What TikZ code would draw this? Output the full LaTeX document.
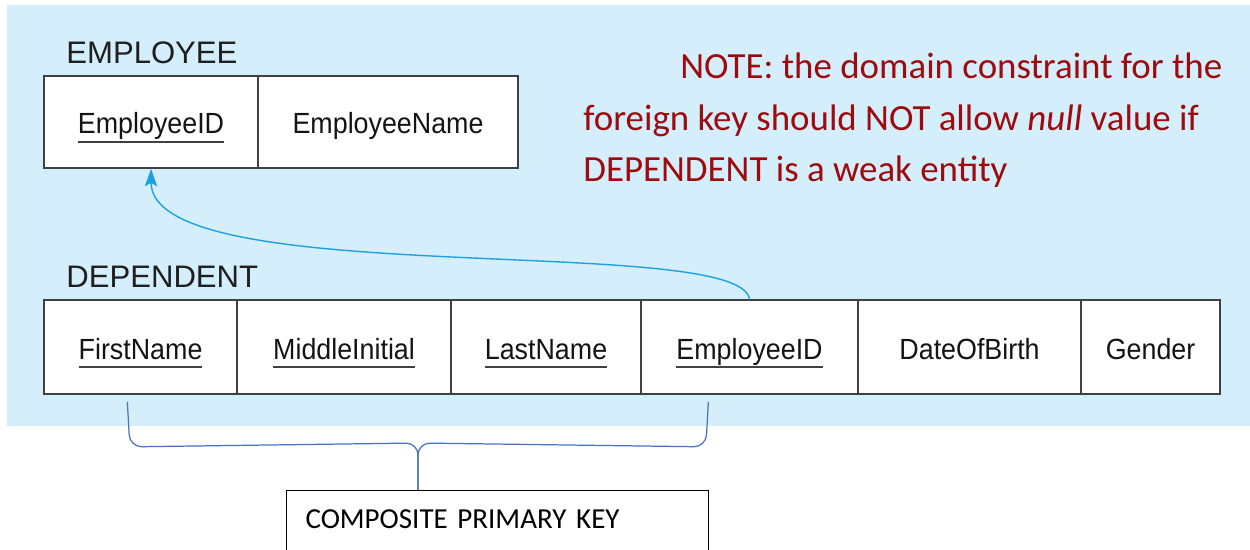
\documentclass[tikz,border=0pt]{standalone}
\usepackage{fontspec}
\newfontfamily\cellfont[FakeStretch=0.92]{Liberation Sans}
\newfontfamily\headfont{Liberation Sans}
\newfontfamily\notefont{Carlito}
\definecolor{fondo}{RGB}{212, 238, 251}
\definecolor{rojo}{RGB}{158, 11, 15}
\definecolor{celeste}{RGB}{28, 162, 226}
\definecolor{llave}{RGB}{68, 114, 196}
\definecolor{borde}{RGB}{64, 64, 64}
\usetikzlibrary{arrows.meta}
\usetikzlibrary{matrix, positioning}
\usetikzlibrary{calc}

\newsavebox{\attrbox}
\newcommand{\keyattr}[1]{\sbox{\attrbox}{#1}\rlap{\color{borde}\rule[-5pt]{\wd\attrbox}{1.1pt}}\usebox{\attrbox}}

\tikzset{
    cell/.style={draw=borde, line width=0.8pt, fill=white, anchor=center, inner sep=0pt,
        font=\cellfont\fontsize{16.6}{20}\selectfont, text=black!92, text height=16pt, text depth=2.4pt},
    tname/.style={font=\headfont\fontsize{17.7}{21}\selectfont, text=black!88, inner sep=0pt},
    note/.style={font=\notefont\fontsize{21}{29.5}\selectfont, text=rojo, align=left, inner sep=0pt},
    fkarrow/.style={celeste, line width=0.8pt, -{Stealth[length=10pt, width=7pt, inset=2pt]}},
    brace/.style={llave, line width=0.7pt, rounded corners=0.24cm},
    keybox/.style={draw, line width=0.6pt, inner xsep=0.38cm, inner ysep=9.5pt, text width=7.68cm, align=left,
        text height=12pt, text depth=10pt, font=\notefont\fontsize{16.5}{20}\selectfont}
}

\begin{document}
\begin{tikzpicture}
    \useasboundingbox (0,0) rectangle (25,11);
    \fill[fondo] (0.14,2.48) rectangle (25,10.9);

    % Employee table
    \matrix[matrix of nodes, nodes={cell, minimum height=1.84cm}, column sep=-0.8pt, inner sep=0pt, anchor=north west] (emp) at (0.86,9.5) {
        |[minimum width=4.28cm]| \keyattr{EmployeeID} & |[minimum width=5.2cm]| EmployeeName \\
    };
    \node[tname, anchor=base west] (empname) at ($(emp.north west)+(0.46,0.22)$) {EMPLOYEE};

    % Dependent table
    \matrix[matrix of nodes, nodes={cell, minimum height=1.88cm}, column sep=-0.8pt, inner sep=0pt,
        below=2.6cm of emp.south west, anchor=north west] (dep) {
        |[minimum width=3.86cm]| \keyattr{FirstName} &
        |[minimum width=4.28cm]| \keyattr{MiddleInitial} &
        |[minimum width=3.8cm]| \keyattr{LastName} &
        |[minimum width=4.34cm]| \keyattr{EmployeeID} &
        |[minimum width=4.46cm]| DateOfBirth &
        |[minimum width=2.78cm]| Gender \\
    };
    \node[tname, anchor=base west] (depname) at ($(dep.north west)+(0.46,0.24)$) {DEPENDENT};

    % Note
    \node[note, anchor=base west] (note) at (11.66,7.36) {\hspace*{1.94cm}NOTE: the domain constraint for the\\
        foreign key should NOT allow \textit{null} value if\\
        DEPENDENT is a weak entity};

    % Foreign key arrow
    \draw[fkarrow] (dep-1-4.north) .. controls +(-0.16,1.34) and +(0,-2.46) .. (emp-1-1.south);

    % Composite key brace
    \node[keybox, anchor=north west] (key) at (5.72,1.2) {COMPOSITE PRIMARY KEY};
    \coordinate (bl) at ($(dep-1-1.south west)+(1.68,-0.14)$);
    \coordinate (br) at ($(dep-1-4.south west)+(1.36,-0.14)$);
    \coordinate (tip) at ($(key.north west)+(2.64,0)$);
    \draw[brace] (bl) -- ($(bl)+(0.05,-0.9)$) -- ($(tip)+(0,0.94)$) -- (tip);
    \draw[brace] (br) -- ($(br)+(-0.05,-0.9)$) -- ($(tip)+(0,0.94)$) -- (tip);
\end{tikzpicture}
\end{document}
